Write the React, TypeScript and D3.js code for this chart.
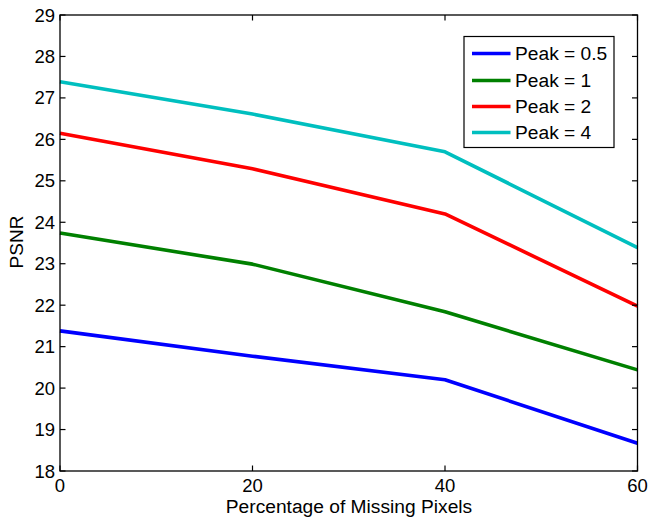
import React from "react";
import * as d3 from "d3";

const xValues = [0, 20, 40, 60];
const seriesNames = ["Peak = 0.5", "Peak = 1", "Peak = 2", "Peak = 4"];
const seriesColors = ["#0000ff", "#008000", "#ff0000", "#00bfbf"];
const peak05 = [21.38, 20.77, 20.2, 18.67];
const peak1 = [23.74, 22.99, 21.84, 20.44];
const peak2 = [26.15, 25.29, 24.2, 21.98];
const peak4 = [27.39, 26.61, 25.7, 23.39];
const seriesValues = [peak05, peak1, peak2, peak4];
const xTicks = [0, 20, 40, 60];
const yTicks = [18, 19, 20, 21, 22, 23, 24, 25, 26, 27, 28, 29];

export default function App() {
  const W = 648, H = 517;
  const left = 60, right = 637.5, top = 15, bottom = 471;
  const x = d3.scaleLinear().domain([0, 60]).range([left, right]);
  const y = d3.scaleLinear().domain([18, 29]).range([bottom, top]);
  const line = d3.line<number>().x((_, i) => x(xValues[i])).y((d) => y(d));
  const font = "Liberation Sans, Arial, Helvetica, sans-serif";
  const tl = 5.5;
  const legendRows = [53.5, 80.5, 106.5, 132.5];
  return (
    <svg width={W} height={H} style={{ position: "absolute", left: 0, top: 0, background: "#fff" }} fontFamily={font}>
      <rect x={0} y={0} width={W} height={H} fill="#fff" />
      {seriesValues.map((vals, k) => (
        <path key={k} d={line(vals) || ""} fill="none" stroke={seriesColors[k]} strokeWidth={3.6} strokeLinejoin="round" />
      ))}
      <rect x={left} y={top} width={right - left} height={bottom - top} fill="none" stroke="#000" strokeWidth={1.3} />
      {xTicks.map((t) => (
        <g key={"x" + t}>
          <line x1={x(t)} x2={x(t)} y1={bottom} y2={bottom - tl} stroke="#000" strokeWidth={1.2} />
          <line x1={x(t)} x2={x(t)} y1={top} y2={top + tl} stroke="#000" strokeWidth={1.2} />
          <text x={x(t)} y={492} fontSize={18.5} textAnchor="middle" fill="#000">{t}</text>
        </g>
      ))}
      {yTicks.map((t) => (
        <g key={"y" + t}>
          <line x1={left} x2={left + tl} y1={y(t)} y2={y(t)} stroke="#000" strokeWidth={1.2} />
          <line x1={right} x2={right - tl} y1={y(t)} y2={y(t)} stroke="#000" strokeWidth={1.2} />
          <text x={55} y={y(t) + 6.5} fontSize={18.5} textAnchor="end" fill="#000">{t}</text>
        </g>
      ))}
      <text x={349} y={513} fontSize={19.2} textAnchor="middle" fill="#000">Percentage of Missing Pixels</text>
      <text transform={`translate(22.5,242) rotate(-90)`} fontSize={19} textAnchor="middle" fill="#000">PSNR</text>
      <rect x={464} y={36.5} width={150} height={111} fill="#fff" stroke="#000" strokeWidth={1.2} />
      {seriesNames.map((n, k) => (
        <g key={n}>
          <line x1={472} x2={510.5} y1={legendRows[k]} y2={legendRows[k]} stroke={seriesColors[k]} strokeWidth={3.6} />
          <text x={515} y={legendRows[k] + 6.8} fontSize={19.2} fill="#000">{n}</text>
        </g>
      ))}
    </svg>
  );
}
